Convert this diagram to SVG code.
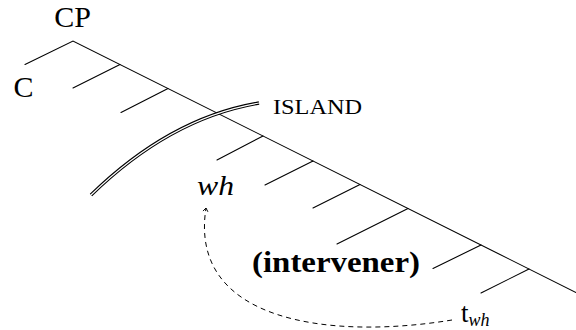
<svg xmlns="http://www.w3.org/2000/svg" width="576" height="330" viewBox="0 0 576 330">
<style>
.ln{stroke:#000;stroke-width:1.1;fill:none;stroke-linecap:round}
.t{font-family:"Liberation Serif","Times New Roman",serif;fill:#000}
</style>
<defs>
<marker id="ah" viewBox="-5 -5 10 10" markerWidth="10" markerHeight="10" refX="0" refY="0" orient="auto" markerUnits="userSpaceOnUse">
<path d="M-3.5,-2.5 L0,0 L-3.5,2.5" fill="none" stroke="#000" stroke-width="0.9"/>
</marker>
</defs>
<g id="tree" class="ln">
<path d="M25,64.5 L73,41 L576,292.5"/>
<path d="M120,64.5 L73,88"/>
<path d="M168,88.5 L121,112.5"/>
<path d="M263,136 L217,160"/>
<path d="M313,161 L265,185"/>
<path d="M360,184.5 L313,208"/>
<path d="M408,208.5 L337,244"/>
<path d="M481,245 L433,268.5"/>
<path d="M529,269 L481,293"/>
</g>
<g id="island">
<path d="M91,195 Q170,118 259,103" fill="none" stroke="#000" stroke-width="3.4"/>
<path d="M91,195 Q170,118 259,103" fill="none" stroke="#fff" stroke-width="1.2"/>
<text class="t" x="273" y="114" font-size="20" textLength="89" lengthAdjust="spacingAndGlyphs">ISLAND</text>
</g>
<g id="cp"><text class="t" x="72.5" y="27" font-size="30" text-anchor="middle">CP</text></g>
<g id="c"><text class="t" x="13.5" y="97" font-size="30">C</text></g>
<g id="wh"><text class="t" x="197" y="195" font-size="27" font-style="italic" textLength="37" lengthAdjust="spacingAndGlyphs">wh</text></g>
<g id="intervener"><text class="t" x="252" y="271.5" font-size="29" font-weight="bold" textLength="168" lengthAdjust="spacingAndGlyphs">(intervener)</text></g>
<g id="trace"><text class="t" x="461" y="321.5" font-size="27">t<tspan font-size="18" font-style="italic" dy="4">wh</tspan></text></g>
<g id="connectors">
<path d="M452,320 C330,340 188,322 206,208" fill="none" stroke="#000" stroke-width="1" stroke-dasharray="5 4" marker-end="url(#ah)"/>
</g>
</svg>
